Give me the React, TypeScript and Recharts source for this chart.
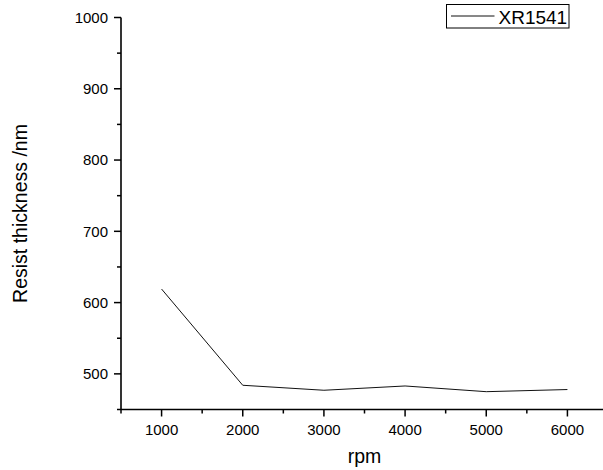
import React from 'react';
import { LineChart, Line, XAxis, YAxis, Legend, Label } from 'recharts';

const rpm = [1000, 2000, 3000, 4000, 5000, 6000];
const thickness = [619, 484, 477, 483, 475, 478];
const seriesName = 'XR1541';
const xTicks = [500, 1000, 1500, 2000, 2500, 3000, 3500, 4000, 4500, 5000, 5500, 6000, 6500];
const yTicks = [450, 500, 550, 600, 650, 700, 750, 800, 850, 900, 950, 1000];
const xTitle = 'rpm';
const yTitle = 'Resist thickness /nm';

const data = rpm.map((r, i) => ({ rpm: r, thickness: thickness[i] }));

const FONT = '"Liberation Sans", Arial, Helvetica, sans-serif';

const XTick = (props: any) => {
  const { x, y, payload } = props;
  const major = payload.value % 1000 === 0;
  return (
    <g>
      <line x1={x} x2={x} y1={y} y2={y + (major ? 7 : 4)} stroke="#000" strokeWidth={1.5} />
      {major && (
        <text x={x} y={y + 25.5} textAnchor="middle" fontSize={15} fontFamily={FONT} fill="#000">
          {payload.value}
        </text>
      )}
    </g>
  );
};

const YTick = (props: any) => {
  const { x, y, payload } = props;
  const major = payload.value % 100 === 0;
  return (
    <g>
      <line x1={x - (major ? 7 : 4)} x2={x} y1={y} y2={y} stroke="#000" strokeWidth={1.5} />
      {major && (
        <text x={x - 13} y={y} dy="0.36em" textAnchor="end" fontSize={15} fontFamily={FONT} fill="#000">
          {payload.value}
        </text>
      )}
    </g>
  );
};

const LegendBox = (props: any) => {
  const item = (props.payload && props.payload[0]) || { value: seriesName, color: '#000' };
  return (
    <svg width={124} height={25} style={{ display: 'block' }}>
      <rect x={0.5} y={0.5} width={122.5} height={23.5} fill="#fff" stroke="#000" strokeWidth={1} />
      <line x1={5} x2={48.5} y1={12} y2={12} stroke={item.color || '#000'} strokeWidth={1} />
      <text x={52.5} y={20.3} fontSize={19} fontFamily={FONT} fill="#000">
        {item.value}
      </text>
    </svg>
  );
};

export default function App() {
  return (
    <div style={{ position: 'absolute', left: 0, top: 0, width: 603, height: 470, overflow: 'hidden', background: '#fff' }}>
      <LineChart
        width={608}
        height={470}
        data={data}
        margin={{ top: 17.5, right: 0, bottom: 10.5, left: 41 }}
      >
        <XAxis
          dataKey="rpm"
          type="number"
          domain={[500, 6500]}
          ticks={xTicks}
          interval={0}
          tickSize={0}
          tickMargin={0}
          tickLine={false}
          tick={<XTick />}
          height={50}
          axisLine={{ stroke: '#000', strokeWidth: 1.6 }}
          allowDataOverflow
        >
          <Label
            content={(p: any) => {
              const vb = p.viewBox || { x: 0, y: 0, width: 0, height: 0 };
              return (
                <text x={vb.x + vb.width / 2} y={vb.y + 53} textAnchor="middle" fontSize={19.5} fontFamily={FONT} fill="#000">
                  {xTitle}
                </text>
              );
            }}
          />
        </XAxis>
        <YAxis
          type="number"
          domain={[450, 1000]}
          ticks={yTicks}
          interval={0}
          tickSize={0}
          tickMargin={0}
          tickLine={false}
          tick={<YTick />}
          width={80}
          axisLine={{ stroke: '#000', strokeWidth: 1.6 }}
          allowDataOverflow
        >
          <Label
            content={(p: any) => {
              const vb = p.viewBox || { x: 0, y: 0, width: 0, height: 0 };
              const cx = vb.x - 20.5;
              const cy = vb.y + vb.height / 2;
              return (
                <text
                  x={cx}
                  y={cy}
                  dy="0.35em"
                  textAnchor="middle"
                  fontSize={19.5}
                  fontFamily={FONT}
                  fill="#000"
                  transform={`rotate(-90, ${cx}, ${cy})`}
                >
                  {yTitle}
                </text>
              );
            }}
          />
        </YAxis>
        <Legend
          layout="vertical"
          align="center"
          verticalAlign="middle"
          content={<LegendBox />}
          wrapperStyle={{ left: 446, top: 4, width: 124, height: 25 }}
        />
        <Line
          type="linear"
          dataKey="thickness"
          name={seriesName}
          stroke="#111"
          strokeWidth={1}
          dot={false}
          isAnimationActive={false}
        />
      </LineChart>
    </div>
  );
}
